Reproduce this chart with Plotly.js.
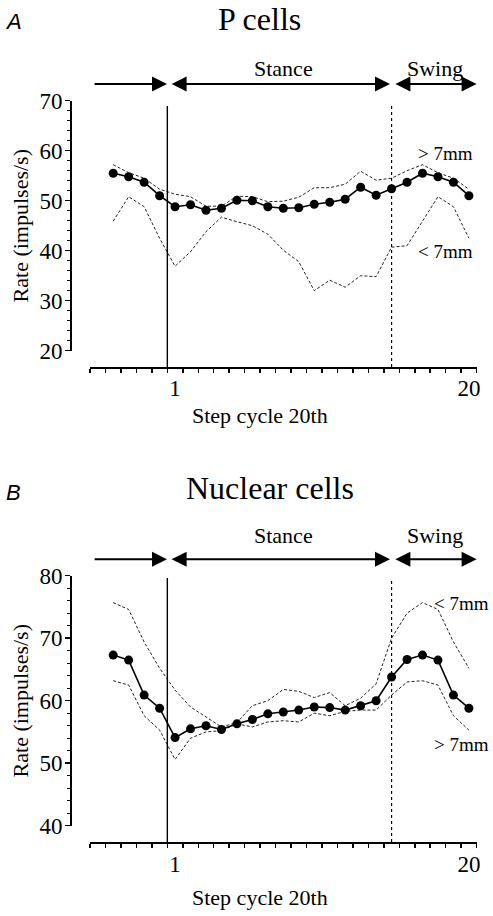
<!DOCTYPE html>
<html>
<head>
<meta charset="utf-8">
<script src="https://cdn.plot.ly/plotly-3.0.1.min.js"></script>
<style>html,body{margin:0;padding:0;background:#fff;}#chart{width:493px;height:916px;}</style>
</head>
<body>
<div id="chart"></div>
<script>
// ---- data (step-cycle bins; last 4 bins of previous cycle shown before bin 1) ----
const steps = [-3,-2,-1,0,1,2,3,4,5,6,7,8,9,10,11,12,13,14,15,16,17,18,19,20];

// A: P cells
const pMean  = [55.5,54.8,53.7,51.0,48.8,49.2,48.1,48.5,50.1,50.0,48.8,48.5,48.6,49.3,49.7,50.3,52.7,51.1,52.4,53.7,55.5,54.8,53.7,51.0];
const pLarge = [57.2,55.6,54.5,52.3,51.3,50.8,48.9,48.9,50.9,50.8,49.8,49.9,50.7,52.6,52.6,53.3,55.9,54.1,54.5,56.0,57.2,55.6,54.5,52.3]; // > 7mm
const pSmall = [45.9,50.8,48.8,42.5,36.9,39.8,43.8,46.7,45.8,45.0,43.3,40.1,37.8,32.0,34.1,32.7,35.0,34.8,40.7,41.0,45.9,50.8,48.8,42.5]; // < 7mm

// B: Nuclear cells
const nMean  = [67.3,66.5,60.9,58.8,54.1,55.5,56.0,55.4,56.3,57.0,57.9,58.2,58.5,59.0,58.9,58.5,59.2,60.0,63.8,66.6,67.3,66.5,60.9,58.8];
const nSmall = [75.7,74.6,69.4,65.2,61.7,59.0,57.4,55.8,56.5,59.2,60.0,61.8,61.5,60.5,61.3,59.2,60.4,62.7,70.0,74.0,75.7,74.6,69.4,65.2]; // < 7mm
const nLarge = [63.2,62.5,57.6,55.3,50.6,54.0,55.0,55.2,56.3,55.8,56.6,56.8,56.6,58.0,57.6,58.3,58.5,58.5,60.9,63.0,63.2,62.5,57.6,55.3]; // > 7mm

const xTickVals = [1, 20];
const xTickText = ['1', '20'];
const stanceStart = 0.5, stanceEnd = 15;

// ---- layout helpers ----
const W = 493, H = 916;
const fx = px => px / W;
const fy = py => 1 - py / H;
const SERIF = 'Liberation Serif';
const SANS = 'Liberation Sans';
const xRange = [-4.5, 20.55];
const xDomain = [fx(90), fx(477.4)];
const serifFont = s => ({family: SERIF, size: s, color: '#000'});

function xAxisBase(posPx) {
  return {
    domain: xDomain, range: xRange, anchor: 'free', position: fy(posPx),
    showline: true, linewidth: 2, linecolor: '#000', showgrid: false, zeroline: false,
    tickmode: 'array', tickvals: xTickVals, ticktext: xTickText, ticks: '',
    tickfont: serifFont(23),
    minor: {ticks: 'outside', tick0: 0.5, dtick: 1, ticklen: 4, tickwidth: 1.5, tickcolor: '#000', showgrid: false},
    fixedrange: true
  };
}
function xAxisMarks(posPx, overl) {
  return {
    domain: xDomain, range: xRange, anchor: 'free', position: fy(posPx), overlaying: overl,
    showline: false, showgrid: false, zeroline: false, showticklabels: false,
    tickmode: 'array', tickvals: [0.5, 10.5, 20.5], ticks: 'outside', ticklen: 7, tickwidth: 1.5, tickcolor: '#000'
  };
}
function yAxisBase(range, topPx, botPx) {
  return {
    domain: [fy(botPx), fy(topPx)], range: range, anchor: 'free', position: fx(71),
    showline: true, linewidth: 2, linecolor: '#000', showgrid: false, zeroline: false,
    tickmode: 'linear', tick0: 0, dtick: 10, ticks: 'outside', ticklen: 5, tickwidth: 1.5, tickcolor: '#000',
    minor: {ticks: 'outside', dtick: 2, ticklen: 3, tickwidth: 1.2, tickcolor: '#000', showgrid: false},
    tickfont: serifFont(23), ticklabelstandoff: -2,
    title: {text: 'Rate (impulses/s)', font: serifFont(22), standoff: 4},
    fixedrange: true
  };
}

const thin = {color: '#222', width: 1, dash: '3px,2px'};
function meanTrace(y, xa, ya) {
  return {x: steps, y: y, xaxis: xa, yaxis: ya, mode: 'lines+markers', type: 'scatter',
    line: {color: '#000', width: 1.6}, marker: {color: '#000', size: 9}, hoverinfo: 'skip'};
}
function thinTrace(y, xa, ya) {
  return {x: steps, y: y, xaxis: xa, yaxis: ya, mode: 'lines', type: 'scatter', line: thin, hoverinfo: 'skip'};
}

const traces = [
  thinTrace(pLarge, 'x', 'y'), thinTrace(pSmall, 'x', 'y'), meanTrace(pMean, 'x', 'y'),
  thinTrace(nSmall, 'x2', 'y2'), thinTrace(nLarge, 'x2', 'y2'), meanTrace(nMean, 'x2', 'y2')
];

function txt(text, pxX, pxY, size, family, extra) {
  return Object.assign({text: text, xref: 'paper', yref: 'paper', x: fx(pxX), y: fy(pxY),
    xanchor: 'center', yanchor: 'middle', showarrow: false,
    font: {family: family || SERIF, size: size, color: '#000'}}, extra || {});
}
function arrow(xa, fromX, toX, pyArrow, both) {
  return {xref: xa, yref: 'paper', x: toX, y: fy(pyArrow), axref: xa, ax: fromX, ayref: 'pixel', ay: 0,
    text: '', showarrow: true, arrowhead: 2, arrowsize: 1.5, arrowwidth: 2, arrowcolor: '#000',
    arrowside: both ? 'end+start' : 'end', startarrowhead: 2, startarrowsize: 1.5, standoff: 0, startstandoff: 0};
}

const annotations = [
  txt('A', 13, 21, 22, SANS, {font: {family: SANS, size: 22, color: '#000', style: 'italic'}}),
  txt('P cells', 259.5, 19, 32),
  txt('Stance', 283, 68, 22), txt('Swing', 435, 68, 22),
  arrow('x', -4.3, stanceStart - 0.02, 84, false),
  arrow('x', stanceStart + 0.18, stanceEnd - 0.1, 84, true),
  arrow('x', stanceEnd + 0.15, 20.5, 84, true),
  txt('&gt; 7mm', 445, 153, 19), txt('&lt; 7mm', 445, 252, 19),
  txt('Step cycle 20th', 259.5, 415.5, 22),

  txt('B', 13, 492, 22, SANS, {font: {family: SANS, size: 22, color: '#000', style: 'italic'}}),
  txt('Nuclear cells', 270, 488, 32),
  txt('Stance', 283, 535, 22), txt('Swing', 435, 535, 22),
  arrow('x2', -4.3, stanceStart - 0.02, 559.3, false),
  arrow('x2', stanceStart + 0.18, stanceEnd - 0.1, 559.3, true),
  arrow('x2', stanceEnd + 0.15, 20.5, 559.3, true),
  txt('&lt; 7mm', 461, 603, 19), txt('&gt; 7mm', 461, 744, 19),
  txt('Step cycle 20th', 259.5, 897.5, 22)
];

const shapes = [
  {type: 'line', xref: 'x', yref: 'paper', x0: stanceStart, x1: stanceStart, y0: fy(367), y1: fy(106), line: {color: '#000', width: 1.4}},
  {type: 'line', xref: 'x', yref: 'paper', x0: stanceEnd, x1: stanceEnd, y0: fy(367), y1: fy(105), line: {color: '#000', width: 1.2, dash: 'dot'}},
  {type: 'line', xref: 'x2', yref: 'paper', x0: stanceStart, x1: stanceStart, y0: fy(842), y1: fy(578), line: {color: '#000', width: 1.4}},
  {type: 'line', xref: 'x2', yref: 'paper', x0: stanceEnd, x1: stanceEnd, y0: fy(842), y1: fy(578), line: {color: '#000', width: 1.2, dash: 'dot'}}
];

const layout = {
  width: W, height: H, margin: {l: 0, r: 0, t: 0, b: 0}, paper_bgcolor: '#fff', plot_bgcolor: 'rgba(0,0,0,0)',
  showlegend: false, font: serifFont(22),
  xaxis: xAxisBase(367.7),
  yaxis: yAxisBase([20, 70], 100.7, 350.7),
  xaxis2: xAxisBase(843.3),
  yaxis2: yAxisBase([40, 80], 575.7, 825.7),
  xaxis3: xAxisMarks(367.7, 'x'),
  xaxis4: xAxisMarks(843.3, 'x2'),
  annotations: annotations, shapes: shapes
};

Plotly.newPlot('chart', traces, layout, {staticPlot: true, displayModeBar: false});
</script>
</body>
</html>
